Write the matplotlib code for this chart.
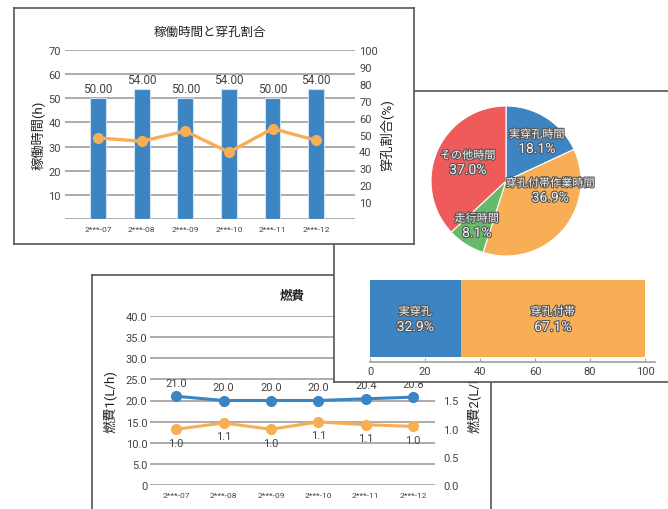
import matplotlib
matplotlib.use("Agg")
from matplotlib import pyplot as plt
import matplotlib.patheffects as pe

plt.rcParams['font.family'] = ['Roboto', 'Noto Sans CJK JP', 'DejaVu Sans']

# data
months = ["2***-07", "2***-08", "2***-09", "2***-10", "2***-11", "2***-12"]
hours = [50, 54, 50, 54, 50, 54]
drill_ratio = [48, 46, 52, 39.5, 53.5, 46.5]

pie_labels = ["実穿孔時間", "穿孔付帯作業時間", "走行時間", "その他時間"]
pie_values = [18.1, 36.9, 8.1, 37.0]

bar_labels = ["実穿孔", "穿孔付帯"]
bar_values = [32.9, 67.1]

fuel1 = [21.0, 20.0, 20.0, 20.0, 20.4, 20.8]
fuel2 = [0.99, 1.10, 0.99, 1.12, 1.07, 1.04]

blue = "#3d84c2"
orange = "#f8ae54"
red = "#ef5b5b"
green = "#66bb6a"
grid_c = "#a6a6a6"
text_c = "#444444"

W, H = 668, 510
fig = plt.figure(figsize=(W / 100, H / 100), dpi=100)


def rect(x0, y0, x1, y1):
    # pixel box -> figure coords
    return [x0 / W, 1 - y1 / H, (x1 - x0) / W, (y1 - y0) / H]


def panel(x0, y0, x1, y1, z):
    bg = fig.add_axes(rect(x0, y0, x1, y1), zorder=z)
    bg.set_facecolor("white")
    bg.set_xticks([])
    bg.set_yticks([])
    for s in bg.spines.values():
        s.set_color("#555555")
        s.set_linewidth(1.2)
    return bg


def clean(ax):
    for s in ax.spines.values():
        s.set_visible(False)
    ax.tick_params(length=0, colors=text_c)


# ---------- panel 3 : fuel (back) ----------
panel(92, 276, 491, 530, 1)
ax3 = fig.add_axes(rect(150, 317, 435, 486), zorder=1.1)
ax3.set_facecolor("none")
x = range(len(months))
ax3.plot(x, fuel1, color=blue, lw=2.2, marker="o", ms=7, zorder=3)
ax3.set_ylim(0, 40)
ax3.set_xlim(-0.55, 5.46)
ax3.set_yticks(range(0, 41, 5))
ax3.set_yticklabels(["0"] + ["%.1f" % v for v in range(5, 41, 5)], fontsize=8)
ax3.yaxis.grid(True, color=grid_c, lw=1.3)
ax3.set_axisbelow(True)
ax3.set_xticks(list(x))
ax3.set_xticklabels(months, fontsize=6)
clean(ax3)
ax3.tick_params(axis="y", pad=2)
ax3.tick_params(axis="x", pad=5)
ax3.set_ylabel("燃費1(L/h)", fontsize=9.5, color="#222222", labelpad=6)
for i, v in enumerate(fuel1):
    ax3.annotate("%.1f" % v, (i, v), xytext=(0, 6), textcoords="offset points",
                 ha="center", va="bottom", fontsize=8, color=text_c)
ax3.set_title("燃費", fontsize=9, fontweight="bold", color="#222222", pad=12)

ax3b = ax3.twinx()
ax3b.set_zorder(1.2)
ax3b.plot(x, fuel2, color=orange, lw=2.2, marker="o", ms=7)
ax3b.set_ylim(0, 3.0)
ax3b.set_yticks([0, 0.5, 1.0, 1.5, 2.0, 2.5, 3.0])
ax3b.set_yticklabels(["%.1f" % v for v in [0, 0.5, 1.0, 1.5, 2.0, 2.5, 3.0]], fontsize=8)
clean(ax3b)
ax3b.tick_params(axis="y", pad=6)
ax3b.set_ylabel("燃費2(L/h)", fontsize=9.5, color="#222222", labelpad=6)
for i, v in enumerate(fuel2):
    ax3b.annotate("%.1f" % v, (i, v), xytext=(0, -6), textcoords="offset points",
                  ha="center", va="top", fontsize=8, color=text_c)

# ---------- panel 2 : pie + stacked bar (middle) ----------
panel(334, 92, 690, 383, 2)
axp = fig.add_axes(rect(431, 107, 581, 257), zorder=2.1)
wedges, _ = axp.pie(pie_values, colors=[blue, orange, green, red], startangle=90,
                    counterclock=False, radius=1.0,
                    wedgeprops=dict(edgecolor="white", linewidth=0.8))
axp.set_xlim(-1, 1)
axp.set_ylim(-1, 1)
halo = [pe.withStroke(linewidth=1.6, foreground="#555555")]
pie_pos = [(0.41, 0.55), (0.59, -0.10), (-0.39, -0.57), (-0.51, 0.27)]
for lab, v, (px, py) in zip(pie_labels, pie_values, pie_pos):
    axp.text(px, py, lab, ha="center", va="bottom", fontsize=8, color="#f2f2f2",
             path_effects=halo)
    axp.text(px, py - 0.03, "%.1f%%" % v, ha="center", va="top", fontsize=10,
             color="#f2f2f2", path_effects=halo)

axb = fig.add_axes(rect(370, 281, 370 + 285, 363), zorder=2.1)
axb.set_facecolor("none")
left = 0
for lab, v, c in zip(bar_labels, bar_values, [blue, orange]):
    axb.barh(0, v, left=left, height=1.0, color=c)
    axb.text(left + v / 2, 0.02, lab, ha="center", va="bottom", fontsize=8,
             color="#f2f2f2", path_effects=halo)
    axb.text(left + v / 2, -0.02, "%.1f%%" % v, ha="center", va="top", fontsize=10,
             color="#f2f2f2", path_effects=halo)
    left += v
axb.set_xlim(0, 103.6)
axb.set_ylim(-0.565, 0.5)
axb.set_yticks([])
axb.set_xticks(range(0, 101, 20))
axb.tick_params(axis="x", labelsize=8, colors=text_c, length=3, direction="in",
                color=grid_c, pad=3)
for k in ["top", "left", "right"]:
    axb.spines[k].set_visible(False)
axb.spines["bottom"].set_color(grid_c)
axb.spines["bottom"].set_linewidth(1.3)

# ---------- panel 1 : hours & ratio (front) ----------
panel(14, 9, 414, 245, 3)
ax1 = fig.add_axes(rect(65, 51, 355, 220), zorder=3.1)
ax1.set_facecolor("none")
ax1.bar(x, hours, width=0.36, color=blue, edgecolor="#cfe0f1", linewidth=0.8, zorder=3)
ax1.set_ylim(0, 70)
ax1.set_xlim(-0.757, 5.89)
ax1.set_yticks(range(10, 71, 10))
ax1.tick_params(axis="y", labelsize=8)
ax1.yaxis.grid(True, color=grid_c, lw=1.3)
ax1.axhline(0, color=grid_c, lw=1.3)
ax1.set_axisbelow(True)
ax1.set_xticks(list(x))
ax1.set_xticklabels(months, fontsize=6)
clean(ax1)
ax1.tick_params(axis="y", pad=3)
ax1.tick_params(axis="x", pad=5)
ax1.set_ylabel("稼働時間(h)", fontsize=9.5, color="#222222", labelpad=3)
for i, v in enumerate(hours):
    ax1.text(i, v + 1.2, "%.2f" % v, ha="center", va="bottom", fontsize=8.5, color=text_c)
ax1.set_title("稼働時間と穿孔割合", fontsize=9, color="#222222", pad=11)

ax1b = ax1.twinx()
ax1b.set_zorder(3.2)
ax1b.plot(x, drill_ratio, color=orange, lw=2.4, marker="o", ms=7)
ax1b.set_ylim(0, 100)
ax1b.set_yticks(range(10, 101, 10))
ax1b.tick_params(axis="y", labelsize=8)
clean(ax1b)
ax1b.tick_params(axis="y", pad=3)
ax1b.set_ylabel("穿孔割合(%)", fontsize=9.5, color="#222222", labelpad=2)

fig.savefig("out.png", dpi=100)
